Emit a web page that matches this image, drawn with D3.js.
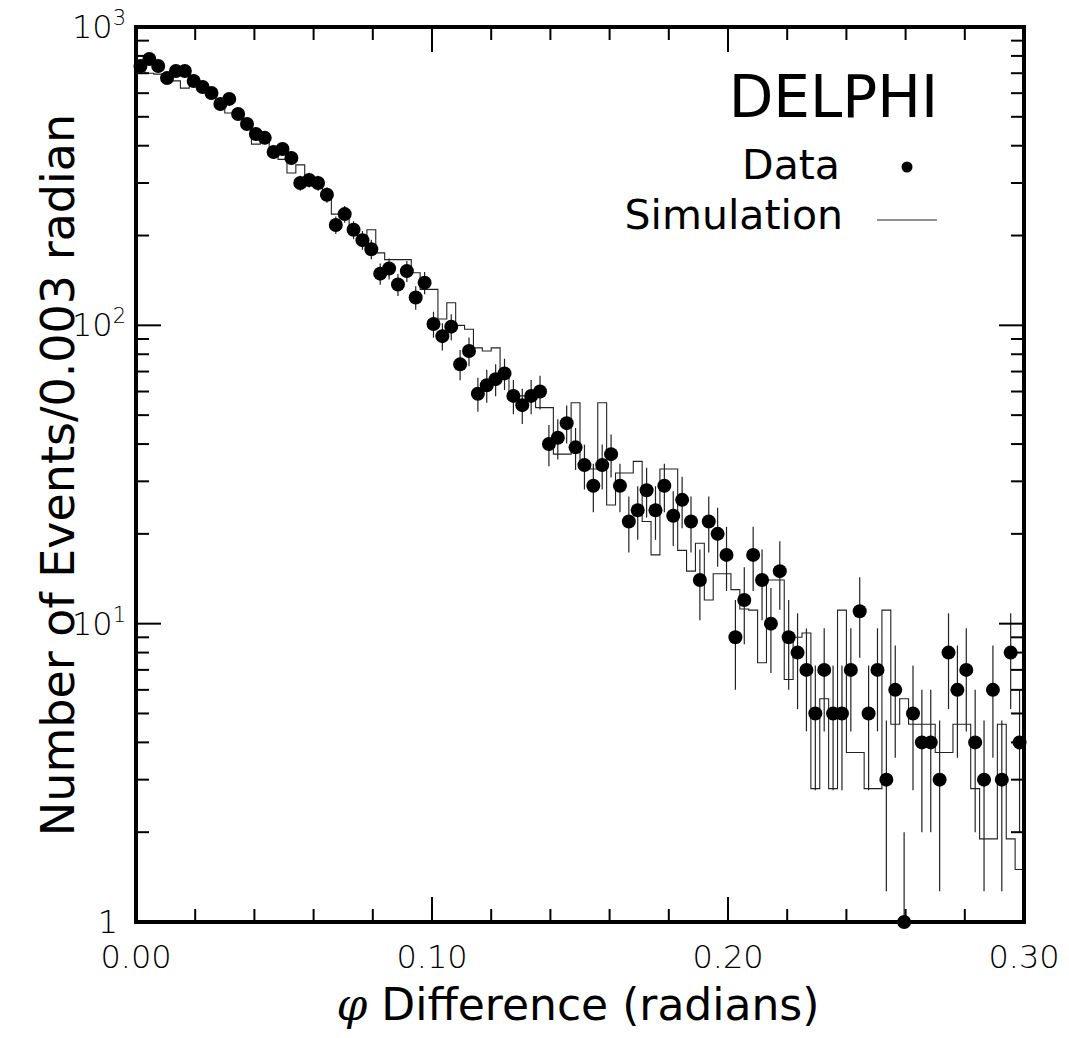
<!DOCTYPE html>
<html><head><meta charset="utf-8">
<script src="https://cdn.jsdelivr.net/npm/d3@7/dist/d3.min.js"></script>
<style>body{margin:0;background:#fff}svg{display:block}</style>
</head><body>
<svg id="chart" width="1069" height="1038"></svg>
<script>
// ---- data ----
const binWidth = 0.003;
const nBins = 100;
const dataCounts = [
 740,781,740,674,712,712,659,629,601,552,
 574,511,473,438,425,381,390,364,300,307,
 300,274,217,236,209,193,180,149,155,137,
 152,124,139,101,92,99,74,82,59,63,
 66,69,58,54,58,60,40,42,47,39,
 34,29,34,37,29,22,24,28,24,29,
 23,26,22,14,22,20,17,9,12,17,
 14,10,15,9,8,7,5,7,5,5,
 7,11,5,7,3,6,1,5,4,4,
 3,8,6,7,4,3,6,3,8,4];
const simValues = [
 750,700,695,690,660,624,640,610,580,545,
 515,500,465,405,410,380,360,324,345,300,
 290,265,236,228,212,200,209,175,166,166,
 166,150,132,132,105,119,100,97,84,82,
 84,69,60,58,58,53,53,37,37,55,
 33,33,55,25,32,32,35,22,17,33,
 33,17.6,15,18.6,12,14.7,14.7,13,11.2,11.1,
 7.4,14,14,6.5,9,9.3,2.8,5.6,2.8,11.1,
 3.7,3.7,2.8,2.8,11.1,4.6,5.6,4.6,4.6,4.6,
 3.7,3.7,4.6,4.6,2.8,1.9,1.9,4.6,1.9,1.5];
const xMinorTicks = [0.02,0.04,0.06,0.08,0.12,0.14,0.16,0.18,0.22,0.24,0.26,0.28];
const xMajorTicks = [0.0,0.1,0.2,0.3];
const xTickLabels = ["0.00","0.10","0.20","0.30"];
const yMajorTicks = [1,10,100,1000];
const yTickExp = ["","1","2","3"];
const legendLabels = ["Data","Simulation"];
const titleText = "DELPHI";
const yTitle = "Number of Events/0.003 radian";
const xTitle = "Difference (radians)";

// ---- layout ----
const L = 136, R = 1024, T = 27, B = 922;
const svg = d3.select("#chart");
const x = d3.scaleLinear().domain([0, 0.3]).range([L, R]);
const y = d3.scaleLog().domain([1, 1000]).range([B, T]);

const yMinorTicks = [];
[1,10,100].forEach(d => { for (let k = 2; k <= 9; k++) yMinorTicks.push(d*k); });

svg.append("defs").append("clipPath").attr("id","clip")
  .append("rect").attr("x", L).attr("y", T).attr("width", R-L).attr("height", B-T);

const plot = svg.append("g").attr("clip-path","url(#clip)");

// simulation histogram (step)
const bins = d3.range(nBins);
const stepPts = [];
bins.forEach(i => {
  stepPts.push([i*binWidth, simValues[i]]);
  stepPts.push([(i+1)*binWidth, simValues[i]]);
});
const line = d3.line().x(d => x(d[0])).y(d => y(d[1]));
plot.append("path").datum(stepPts).attr("d", line)
  .attr("fill","none").attr("stroke","#222").attr("stroke-width",1.1);

// data error bars
plot.selectAll("line.err").data(bins).enter().append("line")
  .attr("class","err")
  .attr("x1", i => x((i+0.5)*binWidth)).attr("x2", i => x((i+0.5)*binWidth))
  .attr("y1", i => y(dataCounts[i] + Math.sqrt(dataCounts[i])))
  .attr("y2", i => { const lo = dataCounts[i] - Math.sqrt(dataCounts[i]); return lo > 0.5 ? y(lo) : B + 5; })
  .attr("stroke","#222").attr("stroke-width",1.2);

// data points
svg.selectAll("circle.pt").data(bins).enter().append("circle")
  .attr("class","pt")
  .attr("cx", i => x((i+0.5)*binWidth)).attr("cy", i => y(dataCounts[i]))
  .attr("r", 7).attr("fill","#000");

// ---- axes (ticks inward) ----
const axG = svg.append("g").attr("stroke","#000");
function addTicks(vals, len, side){
  vals.forEach(v => {
    if (side === "bottom") axG.append("line").attr("x1",x(v)).attr("x2",x(v)).attr("y1",B).attr("y2",B-len);
    if (side === "top") axG.append("line").attr("x1",x(v)).attr("x2",x(v)).attr("y1",T).attr("y2",T+len);
    if (side === "left") axG.append("line").attr("x1",L).attr("x2",L+len).attr("y1",y(v)).attr("y2",y(v));
    if (side === "right") axG.append("line").attr("x1",R).attr("x2",R-len).attr("y1",y(v)).attr("y2",y(v));
  });
}
axG.attr("stroke-width",2);
addTicks(xMinorTicks, 13, "bottom"); addTicks(xMinorTicks, 13, "top");
addTicks([0.1,0.2], 25, "bottom"); addTicks([0.1,0.2], 25, "top");
addTicks(yMinorTicks, 13, "left"); addTicks(yMinorTicks, 13, "right");
addTicks([10,100], 25, "left"); addTicks([10,100], 25, "right");

svg.append("rect").attr("x",L).attr("y",T).attr("width",R-L).attr("height",B-T)
  .attr("fill","none").attr("stroke","#000").attr("stroke-width",4);

// tick labels
const lblFont = "'DejaVu Sans', sans-serif";
svg.selectAll("text.xl").data(xMajorTicks).enter().append("text")
  .attr("x", d => x(d)).attr("y", 968).attr("text-anchor","middle")
  .attr("font-family", lblFont).attr("font-weight",200).attr("font-size",32)
  .text((d,i) => xTickLabels[i]);

yMajorTicks.forEach((v,i) => {
  const t = svg.append("text").attr("y", y(v) + 11)
    .attr("font-family", lblFont).attr("font-weight",200).attr("font-size",32)
    .attr("text-anchor","end");
  if (yTickExp[i] === "") { t.attr("x", 118).text("1"); }
  else {
    t.attr("x", 126);
    t.append("tspan").text("10");
    t.append("tspan").attr("font-size",21).attr("dy",-13).text(yTickExp[i]);
  }
});

// axis titles
svg.append("text").attr("transform","translate(74,475) rotate(-90)")
  .attr("text-anchor","middle").attr("font-family","'DejaVu Sans', sans-serif")
  .attr("font-size",46).text(yTitle);
const xt = svg.append("text").attr("x", 578).attr("y", 1020).attr("text-anchor","middle")
  .attr("font-family","'DejaVu Sans', sans-serif").attr("font-size",44);
xt.append("tspan").attr("font-style","italic").attr("font-family","'DejaVu Serif', serif").text("\u03C6");
xt.append("tspan").text(" " + xTitle);

// legend
svg.append("text").attr("x",938).attr("y",117).attr("text-anchor","end")
  .attr("font-family","'DejaVu Sans', sans-serif").attr("font-size",58).text(titleText);
svg.append("text").attr("x",840).attr("y",179).attr("text-anchor","end")
  .attr("font-family","'DejaVu Sans', sans-serif").attr("font-size",41).text(legendLabels[0]);
svg.append("circle").attr("cx",907).attr("cy",167).attr("r",5.5).attr("fill","#000");
svg.append("text").attr("x",843).attr("y",229).attr("text-anchor","end")
  .attr("font-family","'DejaVu Sans', sans-serif").attr("font-size",41).text(legendLabels[1]);
svg.append("line").attr("x1",877).attr("x2",937).attr("y1",220).attr("y2",220)
  .attr("stroke","#222").attr("stroke-width",1.2);
</script>
</body></html>
